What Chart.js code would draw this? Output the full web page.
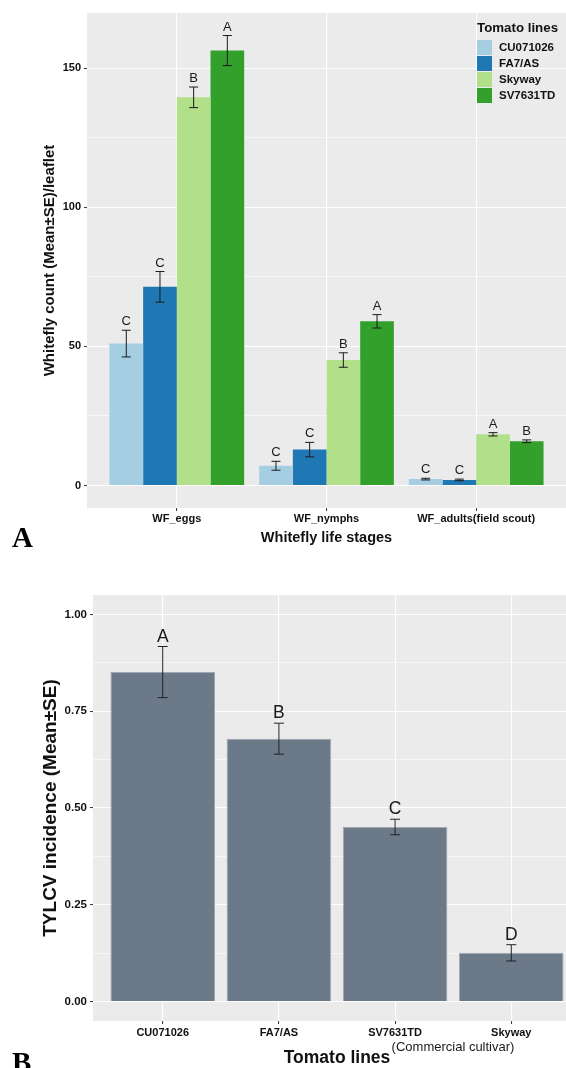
<!DOCTYPE html>
<html>
<head>
<meta charset="utf-8">
<title>Whitefly counts and TYLCV incidence by tomato line</title>
<script src="https://cdn.jsdelivr.net/npm/chart.js@4.4.0/dist/chart.umd.min.js"></script>
<style>
  html, body { margin: 0; padding: 0; background: #ffffff; width: 566px; height: 1068px; overflow: hidden; }
  #wrapA { position: absolute; left: 0; top: 0; width: 566px; height: 560px; }
  #wrapB { position: absolute; left: 0; top: 560px; width: 581px; height: 508px; }
</style>
</head>
<body>
<div id="wrapA"><canvas id="chartA"></canvas></div>
<div id="wrapB"><canvas id="chartB"></canvas></div>
<script>
// ---- Panel A: whitefly counts per leaflet, by life stage and tomato line ----
const stages = ['WF_eggs', 'WF_nymphs', 'WF_adults(field scout)'];
const tomatoLines = ['CU071026', 'FA7/AS', 'Skyway', 'SV7631TD'];
const lineColors = ['#A6CEE3', '#1F78B4', '#B2DF8A', '#33A02C'];

const cuMean = [51.0, 7.1, 2.3];
const cuSE = [4.8, 1.6, 0.3];
const cuGroup = ['C', 'C', 'C'];

const faMean = [71.4, 12.9, 2.0];
const faSE = [5.5, 2.6, 0.3];
const faGroup = ['C', 'C', 'C'];

const skyMean = [139.5, 45.1, 18.4];
const skySE = [3.7, 2.6, 0.6];
const skyGroup = ['B', 'B', 'A'];

const svMean = [156.3, 59.0, 15.9];
const svSE = [5.4, 2.4, 0.5];
const svGroup = ['A', 'A', 'B'];

const countTicks = [0, 25, 50, 75, 100, 125, 150];
const countLimits = [-8.08, 169.8];

// ---- Panel B: TYLCV incidence by tomato line ----
const tylcvLines = ['CU071026', 'FA7/AS', 'SV7631TD', 'Skyway'];
const tylcvMean = [0.851, 0.679, 0.451, 0.126];
const tylcvSE = [0.066, 0.040, 0.020, 0.021];
const tylcvGroup = ['A', 'B', 'C', 'D'];
const incidenceTicks = [0, 0.125, 0.25, 0.375, 0.5, 0.625, 0.75, 0.875, 1];
const incidenceLimits = [-0.05, 1.05];

const SANS = '"Liberation Sans", Arial, sans-serif';
const SERIF = '"Liberation Serif", "Times New Roman", serif';

// grey plotting panel behind the grid
const panelBg = {
  id: 'panelBg',
  beforeDraw(chart, args, opts) {
    const { ctx, chartArea: a } = chart;
    ctx.save();
    ctx.fillStyle = opts.color || '#EBEBEB';
    ctx.fillRect(a.left, a.top, a.right - a.left, a.bottom - a.top);
    ctx.restore();
  }
};

// mean ± SE whiskers and the significance letters above them
const errorBars = {
  id: 'errorBars',
  afterDatasetsDraw(chart, args, opts) {
    const { ctx } = chart;
    const y = chart.scales.y;
    chart.data.datasets.forEach((ds, i) => {
      const meta = chart.getDatasetMeta(i);
      meta.data.forEach((bar, j) => {
        const m = ds.data[j].y, se = ds.se[j];
        const yHi = y.getPixelForValue(m + se);
        const yLo = y.getPixelForValue(m - se);
        ctx.save();
        ctx.strokeStyle = opts.color;
        ctx.lineWidth = opts.width;
        ctx.beginPath();
        ctx.moveTo(bar.x, yHi); ctx.lineTo(bar.x, yLo);
        ctx.moveTo(bar.x - opts.cap, yHi); ctx.lineTo(bar.x + opts.cap, yHi);
        ctx.moveTo(bar.x - opts.cap, yLo); ctx.lineTo(bar.x + opts.cap, yLo);
        ctx.stroke();
        ctx.fillStyle = opts.textColor;
        ctx.font = opts.font;
        ctx.textAlign = 'center';
        ctx.textBaseline = 'alphabetic';
        ctx.fillText(ds.group[j], bar.x, yHi - opts.gap);
        ctx.restore();
      });
    });
  }
};

// axis titles, panel tag and free annotations
const captions = {
  id: 'captions',
  afterDraw(chart, args, opts) {
    const { ctx, chartArea: a } = chart;
    const midX = (a.left + a.right) / 2, midY = (a.top + a.bottom) / 2;
    ctx.save();
    ctx.fillStyle = '#111';
    // y title
    ctx.save();
    ctx.translate(opts.yTitleX, midY);
    ctx.rotate(-Math.PI / 2);
    ctx.font = opts.yTitleFont;
    ctx.textAlign = 'center';
    ctx.textBaseline = 'middle';
    ctx.fillText(opts.yTitle, 0, 0);
    ctx.restore();
    // x title
    ctx.font = opts.xTitleFont;
    ctx.textAlign = 'center';
    ctx.textBaseline = 'middle';
    ctx.fillText(opts.xTitle, midX, opts.xTitleY);
    // panel tag
    ctx.font = 'bold 29px ' + SERIF;
    ctx.textAlign = 'left';
    ctx.textBaseline = 'alphabetic';
    ctx.fillStyle = '#000';
    ctx.fillText(opts.tag, 12, opts.tagY);
    // extra notes
    (opts.notes || []).forEach(n => {
      ctx.font = n.font;
      ctx.fillStyle = '#1a1a1a';
      ctx.textAlign = 'center';
      ctx.textBaseline = 'middle';
      ctx.fillText(n.text, n.x, n.y);
    });
    ctx.restore();
  }
};

// legend placed inside the panel, top right
const insetLegend = {
  id: 'insetLegend',
  afterDraw(chart, args, opts) {
    if (!opts.show) return;
    const { ctx } = chart;
    ctx.save();
    ctx.fillStyle = '#111';
    ctx.font = 'bold 13.3px ' + SANS;
    ctx.textAlign = 'left';
    ctx.textBaseline = 'middle';
    ctx.fillText(opts.title, opts.x, opts.y);
    chart.data.datasets.forEach((ds, i) => {
      const ky = opts.y + 12 + i * 16;
      ctx.fillStyle = ds.backgroundColor;
      ctx.fillRect(opts.x, ky, 15, 15);
      ctx.fillStyle = '#111';
      ctx.font = 'bold 11.5px ' + SANS;
      ctx.fillText(ds.label, opts.x + 22, ky + 8);
    });
    ctx.restore();
  }
};

function isMultiple(v, step) {
  return Math.abs(v / step - Math.round(v / step)) < 1e-6;
}

function yAxis(limits, ticks, majorStep, fmt, width, fontSize) {
  return {
    type: 'linear',
    min: limits[0],
    max: limits[1],
    afterBuildTicks: s => { s.ticks = ticks.map(v => ({ value: v })); },
    afterFit: s => { s.width = width; },
    border: { display: false },
    grid: {
      color: '#ffffff',
      lineWidth: c => (c.tick && isMultiple(c.tick.value, majorStep)) ? 1.1 : 0.55,
      drawTicks: true,
      tickLength: 3,
      tickWidth: 1,
      tickColor: c => (c.tick && isMultiple(c.tick.value, majorStep)) ? '#333' : 'rgba(0,0,0,0)'
    },
    ticks: {
      autoSkip: false,
      padding: 3,
      color: '#111',
      font: { family: SANS, size: fontSize, weight: 'bold' },
      callback: v => isMultiple(v, majorStep) ? fmt(v) : ''
    }
  };
}

function xAxis(names, height, pad) {
  return {
    type: 'linear',
    offset: false,
    min: 0.4,
    max: names.length + 0.6,
    afterBuildTicks: s => { s.ticks = names.map((_, i) => ({ value: i + 1 })); },
    afterFit: s => { s.height = height; },
    border: { display: false },
    grid: {
      color: '#ffffff',
      lineWidth: 1.1,
      offset: false,
      drawTicks: true,
      tickLength: 3,
      tickWidth: 1,
      tickColor: '#333'
    },
    ticks: {
      autoSkip: false,
      maxRotation: 0,
      padding: pad,
      color: '#111',
      font: { family: SANS, size: 11, weight: 'bold' },
      callback: v => names[Math.round(v) - 1] || ''
    }
  };
}

const seriesA = [
  { mean: cuMean, se: cuSE, group: cuGroup },
  { mean: faMean, se: faSE, group: faGroup },
  { mean: skyMean, se: skySE, group: skyGroup },
  { mean: svMean, se: svSE, group: svGroup }
];

new Chart(document.getElementById('chartA'), {
  type: 'bar',
  data: {
    datasets: seriesA.map((s, k) => ({
      label: tomatoLines[k],
      backgroundColor: lineColors[k],
      borderWidth: 0,
      categoryPercentage: 0.9,
      barPercentage: 1.0,
      se: s.se,
      group: s.group,
      data: stages.map((_, i) => ({ x: i + 1, y: s.mean[i] }))
    }))
  },
  options: {
    responsive: true,
    maintainAspectRatio: false,
    animation: false,
    devicePixelRatio: 1,
    events: [],
    layout: { padding: { top: 13, left: 0, right: 0, bottom: 0 } },
    scales: {
      x: xAxis(stages, 52, 1),
      y: yAxis(countLimits, countTicks, 50, v => String(v), 87, 11)
    },
    plugins: {
      legend: { display: false },
      tooltip: { enabled: false },
      panelBg: { color: '#EBEBEB' },
      errorBars: { color: '#1a1a1a', width: 1, cap: 4.5, gap: 5, textColor: '#1a1a1a', font: '13px ' + SANS },
      captions: {
        yTitle: 'Whitefly count (Mean±SE)/leaflet',
        yTitleFont: 'bold 15px ' + SANS,
        yTitleX: 50,
        xTitle: 'Whitefly life stages',
        xTitleFont: 'bold 14.5px ' + SANS,
        xTitleY: 538,
        tag: 'A',
        tagY: 547
      },
      insetLegend: { show: true, title: 'Tomato lines', x: 477, y: 28 }
    }
  },
  plugins: [panelBg, errorBars, captions, insetLegend]
});

new Chart(document.getElementById('chartB'), {
  type: 'bar',
  data: {
    datasets: [{
      label: 'TYLCV incidence',
      backgroundColor: '#6B7989',
      borderColor: 'rgba(150,160,172,0.9)',
      borderWidth: 1,
      categoryPercentage: 0.9,
      barPercentage: 1.0,
      se: tylcvSE,
      group: tylcvGroup,
      data: tylcvLines.map((_, i) => ({ x: i + 1, y: tylcvMean[i] }))
    }]
  },
  options: {
    responsive: true,
    maintainAspectRatio: false,
    animation: false,
    devicePixelRatio: 1,
    events: [],
    layout: { padding: { top: 35, left: 0, right: 0, bottom: 0 } },
    scales: {
      x: xAxis(tylcvLines, 47, 2),
      y: yAxis(incidenceLimits, incidenceTicks, 0.25, v => v.toFixed(2), 93, 11.5)
    },
    plugins: {
      legend: { display: false },
      tooltip: { enabled: false },
      panelBg: { color: '#EBEBEB' },
      errorBars: { color: '#222', width: 1, cap: 5, gap: 5, textColor: '#1a1a1a', font: '17.5px ' + SANS },
      captions: {
        yTitle: 'TYLCV incidence (Mean±SE)',
        yTitleFont: 'bold 19px ' + SANS,
        yTitleX: 51,
        xTitle: 'Tomato lines',
        xTitleFont: 'bold 17.5px ' + SANS,
        xTitleY: 498,
        tag: 'B',
        tagY: 512,
        notes: [{ text: '(Commercial cultivar)', x: 453, y: 487, font: '13px ' + SANS }]
      },
      insetLegend: { show: false }
    }
  },
  plugins: [panelBg, errorBars, captions, insetLegend]
});
</script>
</body>
</html>
